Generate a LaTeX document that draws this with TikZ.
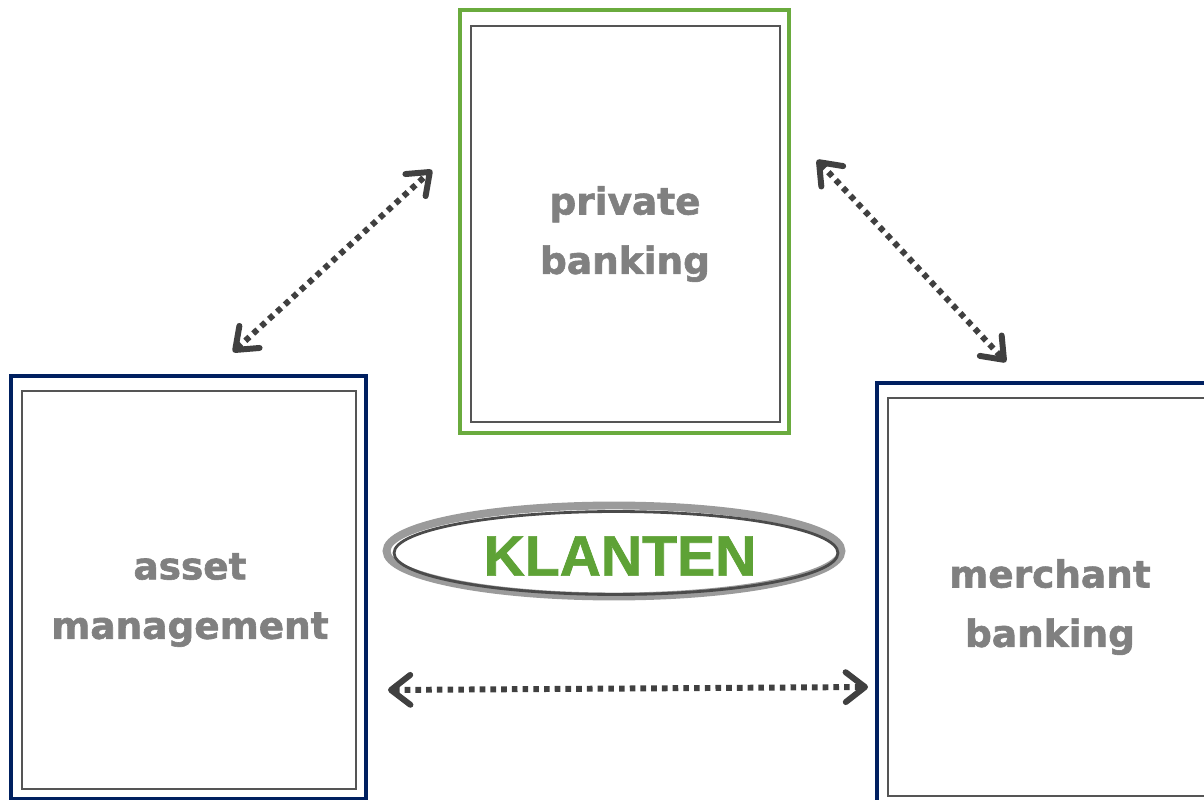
\documentclass[tikz,border=0pt]{standalone}
\usepackage{fontspec}
\setmainfont{DejaVu Sans}[BoldFeatures={FakeBold=1.6}]
\newfontfamily\klantenfont{Liberation Sans}[BoldFeatures={FakeBold=1.2}]
\usetikzlibrary{arrows.meta,shapes.geometric}
\definecolor{navy}{RGB}{0,32,96}
\definecolor{boxgreen}{RGB}{106,171,62}
\definecolor{klgreen}{RGB}{94,162,54}
\definecolor{boxgray}{RGB}{85,85,85}
\definecolor{textgray}{RGB}{128,128,128}
\definecolor{arrowgray}{RGB}{64,64,64}
\definecolor{ringgray}{RGB}{155,155,155}
\definecolor{ringdark}{RGB}{75,75,75}
\tikzset{>={Straight Barb[length=11pt,width=17pt,round]}}

\begin{document}
\begin{tikzpicture}[x=0.02cm,y=-0.02cm]

\tikzstyle{outer}=[draw,line width=1.8pt,inner sep=0pt]
\tikzstyle{inner}=[draw=boxgray,line width=1.1pt]
\tikzstyle{lab}=[text=textgray,align=center,font=\bfseries\fontsize{21.3}{33.8}\selectfont]
\tikzstyle{link}=[<->,draw=arrowgray,line width=3.4pt,dash pattern=on 3.2pt off 2.9pt]

  \useasboundingbox (0,0) rectangle (1204,800);
  \clip (0,0) rectangle (1204,800);

  % private banking
  \node[outer,draw=boxgreen,minimum width=6.58cm,minimum height=8.46cm] (pb) at (624.5,221.5) {};
  \node[inner,minimum width=6.18cm,minimum height=7.92cm] (pb-in) at (625.5,224) {};
  \node[lab] (pb-txt) at (625,234) {private\\ banking};

  % asset management
  \node[outer,draw=navy,minimum width=7.1cm,minimum height=8.46cm] (am) at (188.5,587.5) {};
  \node[inner,minimum width=6.68cm,minimum height=7.96cm] (am-in) at (189,590) {};
  \node[lab] (am-txt) at (190,600) {asset\\ management};

  % merchant banking
  \node[outer,draw=navy,minimum width=7.1cm,minimum height=8.46cm] (mb) at (1054.5,594.5) {};
  \node[inner,minimum width=6.68cm,minimum height=7.96cm] (mb-in) at (1055,597) {};
  \node[lab] (mb-txt) at (1050,607) {merchant\\ banking};

  % klanten
  \node[ellipse,draw=ringgray,line width=4.5pt,inner sep=0pt,
        minimum width=9.1cm,minimum height=1.82cm] (kl) at (614,551) {};
  \draw[ringdark,line width=1.6pt] ([shift={(2,2)}]kl.center) ellipse [x radius=4.44cm, y radius=0.83cm];
  \node[text=klgreen,font=\klantenfont\bfseries\fontsize{32.5}{32.5}\selectfont] (kl-txt) at (620,556) {KLANTEN};

  % links
  \coordinate (am-end) at (233,352);
  \coordinate (pb-end1) at (432,170);
  \coordinate (pb-end2) at (817,160);
  \coordinate (mb-end1) at (1006,362);
  \coordinate (am-end2) at (388,690);
  \coordinate (mb-end2) at (868,687);
  \draw[link] (am-end) -- (pb-end1);
  \draw[link] (pb-end2) -- (mb-end1);
  \draw[link] (am-end2) -- (mb-end2);

\end{tikzpicture}
\end{document}
